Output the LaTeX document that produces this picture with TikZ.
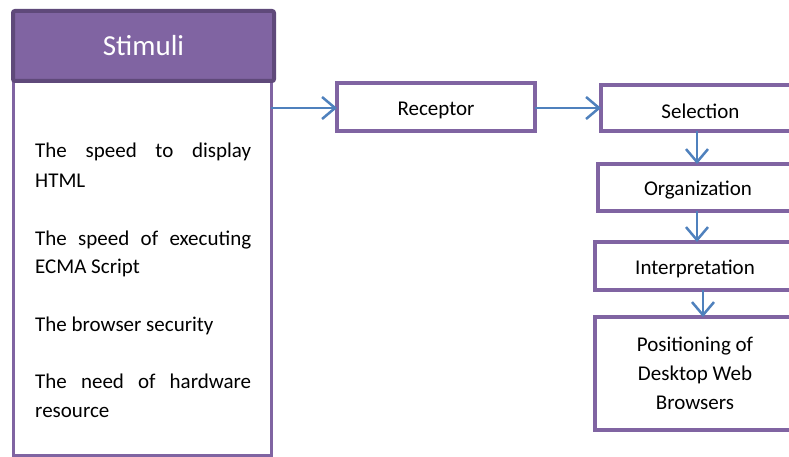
\documentclass[tikz,border=0pt]{standalone}
\usepackage{fontspec}
\setmainfont{Carlito}
\usetikzlibrary{arrows.meta}
\definecolor{pborder}{HTML}{8064A2}
\definecolor{pdark}{HTML}{5F497A}
\definecolor{arrblue}{HTML}{4F81BD}
\newcommand{\lowtxt}[1]{\raisebox{-3pt}[\height][\depth]{#1}}
\tikzset{
  box/.style={draw=pborder, line width=4pt, fill=white, rectangle, inner sep=0pt, outer sep=0pt,
    font=\fontsize{21}{29}\selectfont, align=center},
  arr/.style={draw=arrblue, line width=2.5pt, -{Straight Barb[length=13pt,width=22pt,line width=2.5pt]}},
  txt/.style={anchor=base west, inner sep=0pt, font=\fontsize{21}{29}\selectfont}
}
\begin{document}
\begin{tikzpicture}[x=1pt,y=-1pt]
\useasboundingbox (0,0) rectangle (789,457);
\clip (0,0) rectangle (789,457);
\fill[white] (0,0) rectangle (789,457);
% Stimuli body and header
\node[draw=pborder, line width=3pt, rectangle, inner sep=0pt, outer sep=0pt,
  minimum width=258pt, minimum height=374pt] (body) at (142,268) {};
\node[draw=pdark, fill=pborder, line width=4pt, rounded corners=2pt, inner sep=0pt, outer sep=0pt,
  minimum width=261pt, minimum height=70pt, text=white, font=\fontsize{29}{34}\selectfont] (stim) at (143.5,46) {Stimuli};
% body text
\node[txt] (l1) at (35,158) {\hbox to 216pt{The\hfill speed\hfill to\hfill display}};
\node[txt] (l2) at (35,187) {HTML};
\node[txt] (l3) at (35,245) {\hbox to 216pt{The\hfill speed\hfill of\hfill executing}};
\node[txt] (l4) at (35,273) {ECMA Script};
\node[txt] (l5) at (35,331) {The browser security};
\node[txt] (l6) at (35,388) {\hbox to 216pt{The\hfill need\hfill of\hfill hardware}};
\node[txt] (l7) at (35,417) {resource};
% process boxes
\node[box, minimum width=198pt, minimum height=48pt] (rec) at (436,107) {\lowtxt{Receptor}};
\node[box, minimum width=199pt, minimum height=46pt] (sel) at (700.5,108) {\lowtxt{Selection}};
\node[box, minimum width=200pt, minimum height=47pt] (org) at (698,187.5) {\lowtxt{Organization}};
\node[box, minimum width=200pt, minimum height=48pt] (int) at (695,266) {\lowtxt{Interpretation}};
\node[box, minimum width=200pt, minimum height=113pt] (pos) at (695,373.5) {Positioning of\\Desktop Web\\Browsers};
% arrows
\draw[arr] (body.east |- 0,108) -- (rec.west |- 0,108);
\draw[arr] (rec.east |- 0,108) -- (sel.west |- 0,108);
\draw[arr] (sel.south -| 697,0) -- (org.north -| 697,0);
\draw[arr] (org.south -| 697,0) -- (int.north -| 697,0);
\draw[arr] (int.south -| 703,0) -- (pos.north -| 703,0);
\end{tikzpicture}
\end{document}
